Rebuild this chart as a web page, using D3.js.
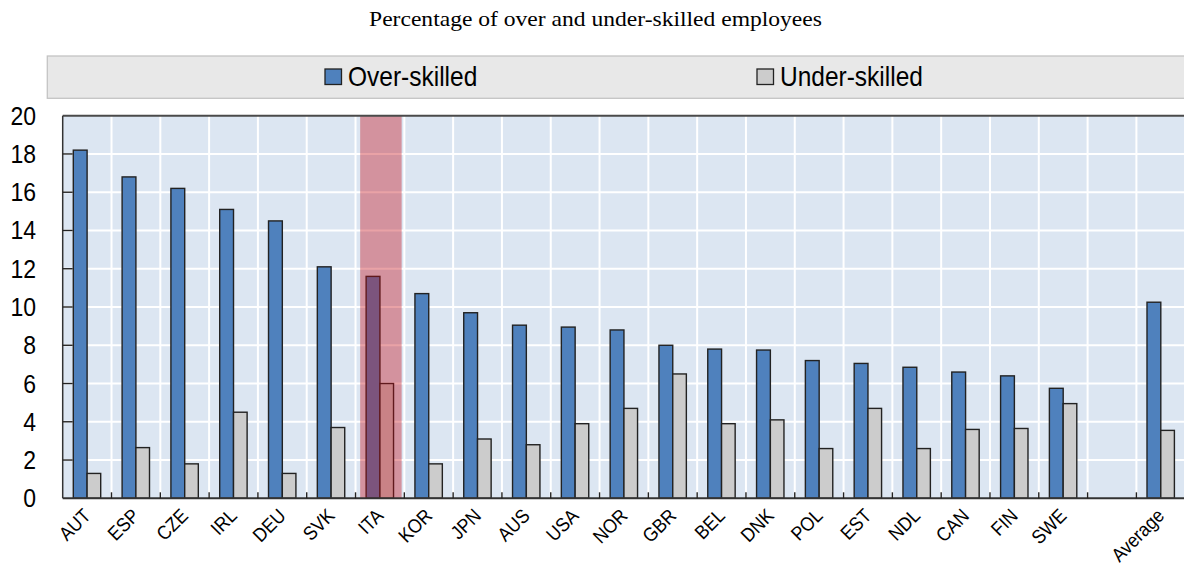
<!DOCTYPE html>
<html><head><meta charset="utf-8">
<script src="https://cdn.jsdelivr.net/npm/d3@7"></script>
<style>
html,body{margin:0;padding:0;background:#fff;}
svg{display:block;}
.nar{font-family:"Liberation Sans",Arial,sans-serif;}
</style></head>
<body>
<svg id="chart" width="1184" height="565"></svg>
<script>
const countries = ["AUT","ESP","CZE","IRL","DEU","SVK","ITA","KOR","JPN","AUS","USA","NOR","GBR","BEL","DNK","POL","EST","NDL","CAN","FIN","SWE","","Average"];
const overSkilled  = [18.2,16.8,16.2,15.1,14.5,12.1,11.6,10.7,9.7,9.05,8.95,8.8,8.0,7.8,7.75,7.2,7.05,6.85,6.6,6.4,5.75,null,10.25];
const underSkilled = [1.3,2.65,1.8,4.5,1.3,3.7,6.0,1.8,3.1,2.8,3.9,4.7,6.5,3.9,4.1,2.6,4.7,2.6,3.6,3.65,4.95,null,3.55];
const yTicks = [0,2,4,6,8,10,12,14,16,18,20];
const seriesNames = ["Over-skilled","Under-skilled"];
const highlight = "ITA";
const titleText = "Percentage of over and under-skilled employees";

const svg = d3.select("#chart");
const pLeft = 62.7, pRight = 1185.2, pTop = 115.7, pBottom = 498.3;

const keys = countries.map(c => c === "" ? "_blank" : c);
const x = d3.scaleBand().domain(keys).range([pLeft,pRight]).paddingInner(0).paddingOuter(0);
const y = d3.scaleLinear().domain([0,20]).range([pBottom,pTop]);
const bw = x.bandwidth();

// title
svg.append("text").attr("transform","translate(595.5,25.7) scale(1.15,1)").attr("text-anchor","middle")
  .attr("font-family","'Liberation Serif','Times New Roman',serif").attr("font-size",20.5).attr("fill","#000")
  .text(titleText);

// legend box
svg.append("rect").attr("x",47.3).attr("y",56).attr("width",1150).attr("height",42.3)
  .attr("fill","#e8e8e8").attr("stroke","#c4c4c4").attr("stroke-width",1.3);
const legendItems = [{name:seriesNames[0],fill:"#4f81bd",x:325},{name:seriesNames[1],fill:"#cccccc",x:757}];
legendItems.forEach(d=>{
  svg.append("rect").attr("x",d.x).attr("y",69).attr("width",16.5).attr("height",15.5)
    .attr("fill",d.fill).attr("stroke","#222").attr("stroke-width",1.3);
  svg.append("text").attr("class","nar")
    .attr("transform",`translate(${d.x+23},86) scale(0.86,1)`)
    .attr("font-size",28.5).attr("fill","#000").text(d.name);
});

// plot bg
svg.append("rect").attr("x",pLeft).attr("y",pTop).attr("width",pRight-pLeft).attr("height",pBottom-pTop).attr("fill","#dce6f2");

// grid
svg.append("g").selectAll("line").data(yTicks.filter(t=>t>0&&t<20)).join("line")
  .attr("x1",pLeft).attr("x2",pRight).attr("y1",d=>y(d)).attr("y2",d=>y(d))
  .attr("stroke","#fff").attr("stroke-width",2);
svg.append("g").selectAll("line").data(keys.slice(1)).join("line")
  .attr("x1",d=>x(d)).attr("x2",d=>x(d)).attr("y1",pTop).attr("y2",pBottom)
  .attr("stroke","#fff").attr("stroke-width",2);

// bars
const data = keys.map((k,i)=>({k, o:overSkilled[i], u:underSkilled[i]})).filter(d=>d.o!=null);
const g = svg.append("g");
g.selectAll("rect.o").data(data).join("rect").attr("class","o")
  .attr("x",d=>x(d.k)+bw/2-13.8).attr("width",13.8)
  .attr("y",d=>y(d.o)).attr("height",d=>y(0)-y(d.o))
  .attr("fill","#4f81bd").attr("stroke","#222").attr("stroke-width",1.4);
g.selectAll("rect.u").data(data).join("rect").attr("class","u")
  .attr("x",d=>x(d.k)+bw/2).attr("width",13.6)
  .attr("y",d=>y(d.u)).attr("height",d=>y(0)-y(d.u))
  .attr("fill","#cccccc").attr("stroke","#222").attr("stroke-width",1.4);

// highlight band
svg.append("rect").attr("x",x(highlight)+bw*0.095).attr("width",bw*0.85)
  .attr("y",pTop).attr("height",pBottom-pTop)
  .attr("fill","rgb(198,10,20)").attr("fill-opacity",0.38);

// axes lines
svg.append("line").attr("x1",pLeft).attr("x2",pRight).attr("y1",pTop).attr("y2",pTop).attr("stroke","#4a4a4a").attr("stroke-width",2);
svg.append("line").attr("x1",pLeft).attr("x2",pLeft).attr("y1",pTop).attr("y2",pBottom).attr("stroke","#333").attr("stroke-width",1.5);
svg.append("line").attr("x1",pLeft).attr("x2",pRight).attr("y1",pBottom).attr("y2",pBottom).attr("stroke","#333").attr("stroke-width",2);

// y ticks (inside)
svg.append("g").selectAll("line").data(yTicks.filter(t=>t>0&&t<20)).join("line")
  .attr("x1",pLeft).attr("x2",pLeft+10).attr("y1",d=>y(d)).attr("y2",d=>y(d))
  .attr("stroke","#222").attr("stroke-width",1.4);
svg.append("g").selectAll("text").data(yTicks).join("text").attr("class","nar")
  .attr("transform",d=>`translate(36,${y(d)+9}) scale(0.92,1)`)
  .attr("text-anchor","end").attr("font-size",25).attr("fill","#000")
  .text(d=>d);

// x ticks
svg.append("g").selectAll("line").data(keys.slice(1)).join("line")
  .attr("x1",d=>x(d)).attr("x2",d=>x(d)).attr("y1",pBottom-6).attr("y2",pBottom)
  .attr("stroke","#222").attr("stroke-width",1.4);

// x labels
svg.append("g").selectAll("text").data(keys.filter(k=>k!=="_blank")).join("text").attr("class","nar")
  .attr("transform",d=>`translate(${x(d)+bw/2-5},${pBottom+9}) rotate(-45) scale(0.9,1)`)
  .attr("text-anchor","end").attr("dy","0.7em").attr("font-size",19.5).attr("fill","#000")
  .text(d=>d);
</script>
</body></html>
